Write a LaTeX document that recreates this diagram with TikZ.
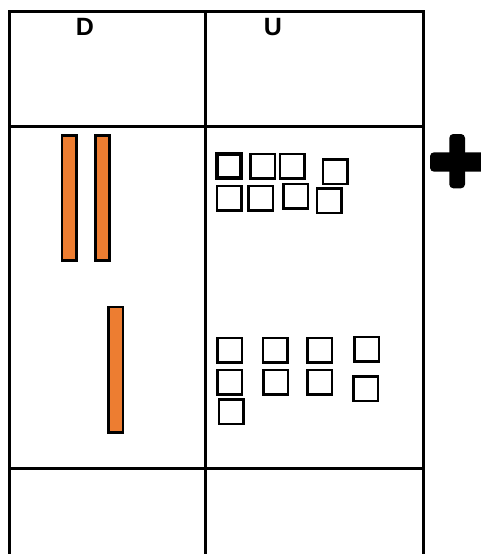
\documentclass[tikz,border=0pt]{standalone}
\usepackage{fontspec}
\setmainfont{Liberation Sans}
\definecolor{rodFill}{HTML}{ED7D31}
\definecolor{gridLine}{HTML}{000000}

\begin{document}
\begin{tikzpicture}[
    x=1pt,y=-1pt,
    every node/.style={inner sep=0pt,outer sep=0pt},
    grid/.style={draw=gridLine,line width=3pt},
    head/.style={font=\fontsize{25}{29}\selectfont\bfseries},
    rod/.style={draw=black,fill=rodFill,line width=2.6pt,minimum width=14.5pt,minimum height=125.5pt},
    unit/.style={draw=black,line width=2.5pt,minimum size=24.5pt},
    firstunit/.style={unit,line width=4.2pt},
    plusbar/.style={fill=black,rounded corners=4pt}
]
\useasboundingbox (0,0) rectangle (481,554);
% table
\draw[grid] (9,554) -- (9,11) -- (423,11) -- (423,554);
\draw[grid] (205,11) -- (205,554);
\draw[grid] (9,126) -- (423,126);
\draw[grid] (9,468) -- (423,468);
\node[head] (dHead) at (85,27) {D};
\node[head] (uHead) at (273,27) {U};
% tens
\node[rod] (rodA) at (69.2,198) {};
\node[rod] (rodB) at (102.5,198) {};
\node[rod] (rodC) at (115.8,369.8) {};
% units, first number
\node[firstunit] (uA1) at (229,166) {};
\node[unit] (uA2) at (262.7,166) {};
\node[unit] (uA3) at (292.3,166) {};
\node[unit] (uA4) at (335,171.8) {};
\node[unit] (uA5) at (229.2,198) {};
\node[unit] (uA6) at (260.8,198) {};
\node[unit] (uA7) at (295.5,196.3) {};
\node[unit] (uA8) at (329.2,200.5) {};
% units, second number
\node[unit] (uB1) at (229.5,350.3) {};
\node[unit] (uB2) at (275.2,350.3) {};
\node[unit] (uB3) at (319.7,350.3) {};
\node[unit] (uB4) at (366.8,349.2) {};
\node[unit] (uB5) at (229.5,382.2) {};
\node[unit] (uB6) at (275.5,382.2) {};
\node[unit] (uB7) at (319.7,382.2) {};
\node[unit] (uB8) at (365.8,388.7) {};
\node[unit] (uB9) at (231.2,411.7) {};
% plus sign
\fill[plusbar] (449.3,134) rectangle (465,188.3);
\fill[plusbar] (430,152.3) rectangle (490,171.7);
\end{tikzpicture}
\end{document}
